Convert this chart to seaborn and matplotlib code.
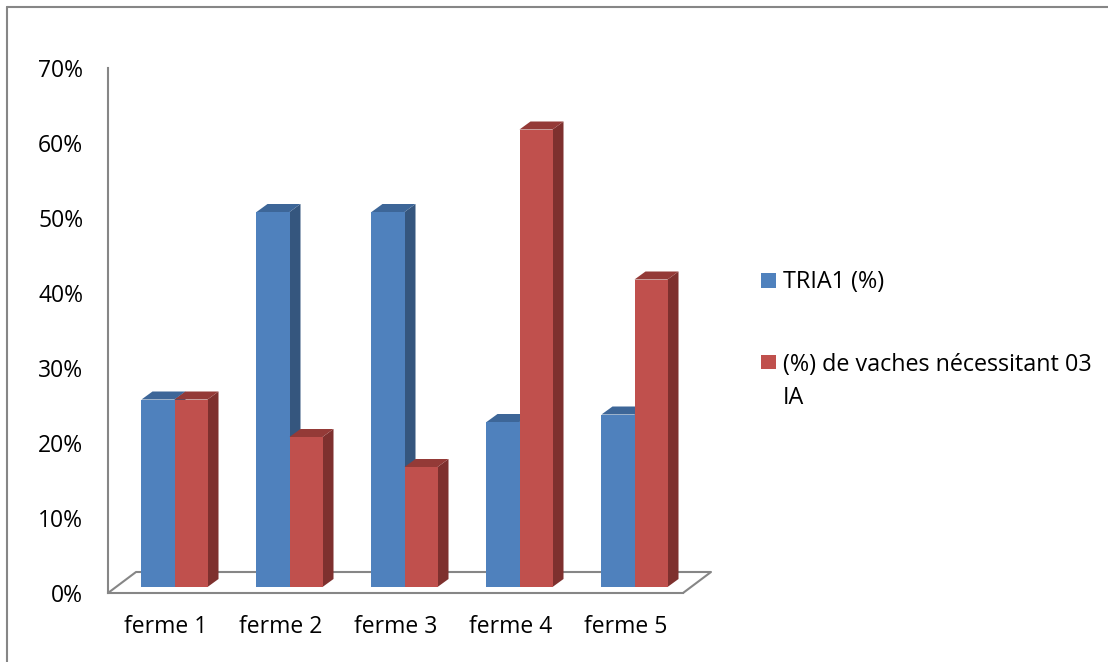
import numpy as np
import pandas as pd
import matplotlib
matplotlib.use("Agg")
import matplotlib.pyplot as plt
import seaborn as sns
from matplotlib.patches import Polygon, Rectangle
from matplotlib.lines import Line2D
from matplotlib.ticker import PercentFormatter

# ---- data -------------------------------------------------------------
fermes = ["ferme 1", "ferme 2", "ferme 3", "ferme 4", "ferme 5"]
tria1 = [0.25, 0.50, 0.50, 0.22, 0.23]
vaches_03_ia = [0.25, 0.20, 0.16, 0.61, 0.41]
series = ["TRIA1 (%)", "(%) de vaches nécessitant 03 IA"]
legend_labels = ["TRIA1 (%)", "(%) de vaches nécessitant 03\nIA"]
y_ticks = [0.0, 0.1, 0.2, 0.3, 0.4, 0.5, 0.6, 0.7]

df = pd.DataFrame({
    "ferme": fermes * 2,
    "valeur": tria1 + vaches_03_ia,
    "serie": [series[0]] * len(fermes) + [series[1]] * len(fermes),
})

# ---- style --------------------------------------------------------------
front_colors = ["#4F81BD", "#C0504D"]
side_colors = ["#35567E", "#7E302E"]
top_colors = ["#3D6698", "#943A37"]
axis_grey = "#868686"
FS = 16.5
FS_LEG = 16.8

sns.set_style("white")
plt.rcParams["font.family"] = ["Open Sans", "DejaVu Sans"]
plt.rcParams["text.color"] = "black"

W, H, DPI = 1108, 662, 100
fig = plt.figure(figsize=(W / DPI, H / DPI), dpi=DPI)


def px_box(left, top, right, bottom):
    return [left / W, 1 - bottom / H, (right - left) / W, (bottom - top) / H]


# front plane: axis lines, ticks, labels and floor outline
ax = fig.add_axes(px_box(108, 68, 683, 593))
# bar plane: set slightly back in depth
ax_bars = fig.add_axes(px_box(117, 62, 692, 587))
ax_bars.patch.set_alpha(0)

sns.barplot(data=df, x="ferme", y="valeur", hue="serie", hue_order=series,
            order=fermes, palette=front_colors, saturation=1, width=0.574,
            legend=False, ax=ax_bars, edgecolor="none", linewidth=0)
ax_bars.set_xlim(-0.5, len(fermes) - 0.5)
ax_bars.set_ylim(0, 0.7)
ax_bars.axis("off")

# pixel -> data scale for the depth extrusion
t = ax_bars.transData
ux = t.transform((1, 0))[0] - t.transform((0, 0))[0]
uy = t.transform((0, 1))[1] - t.transform((0, 0))[1]
ddx, ddy = 11 / ux, 8 / uy

bars = [p for p in ax_bars.patches if isinstance(p, Rectangle)]
n = len(fermes)
for i, p in enumerate(bars):
    lvl = i // n
    x0, w, h = p.get_x(), p.get_width(), p.get_height()
    base = 2 + lvl
    side = [(x0 + w, 0), (x0 + w + ddx, ddy), (x0 + w + ddx, h + ddy), (x0 + w, h)]
    top = [(x0, h), (x0 + ddx, h + ddy), (x0 + w + ddx, h + ddy), (x0 + w, h)]
    ax_bars.add_patch(Polygon(side, closed=True, facecolor=side_colors[lvl],
                              edgecolor="none", zorder=base, clip_on=False))
    ax_bars.add_patch(Polygon(top, closed=True, facecolor=top_colors[lvl],
                              edgecolor="none", zorder=base, clip_on=False))
    p.set_zorder(base + 0.5)
    p.set_clip_on(False)

# ---- axes ------------------------------------------------------------------
ax.set_xlim(-0.5, len(fermes) - 0.5)
ax.set_ylim(0, 0.7)
for s in ["top", "right"]:
    ax.spines[s].set_visible(False)
for s in ["left", "bottom"]:
    ax.spines[s].set_color(axis_grey)
    ax.spines[s].set_linewidth(1.5)

ax.set_yticks(y_ticks)
ax.yaxis.set_major_formatter(PercentFormatter(1.0, decimals=0))
ax.tick_params(axis="y", length=5.8, width=1.5, color=axis_grey,
               pad=12, labelsize=FS, labelcolor="black")

ax.set_xticks(np.arange(-0.5, len(fermes), 1.0))
ax.set_xticklabels([])
ax.set_xticks(np.arange(len(fermes)), minor=True)
ax.set_xticklabels(fermes, minor=True)
ax.tick_params(axis="x", which="major", length=6.5, width=1.5, color=axis_grey)
ax.tick_params(axis="x", which="minor", length=0, pad=16,
               labelsize=FS, labelcolor="black")

# floor outline
ta = ax.transData
fx = 28 / (ta.transform((1, 0))[0] - ta.transform((0, 0))[0])
fy = 21 / (ta.transform((0, 1))[1] - ta.transform((0, 0))[1])
x_l, x_r = -0.5, len(fermes) - 0.5
ax.plot([x_l, x_l + fx, x_r + fx, x_r], [0, fy, fy, 0],
        color=axis_grey, lw=1.5, clip_on=False, solid_capstyle="butt")

# chart border
fig.add_artist(Line2D([7 / W, 1], [1 - 7 / H, 1 - 7 / H],
                      transform=fig.transFigure, color=axis_grey, lw=1.5))
fig.add_artist(Line2D([7 / W, 7 / W], [0, 1 - 7 / H],
                      transform=fig.transFigure, color=axis_grey, lw=1.5))

# legend: square sits on the baseline of the label's first line
legend_rows = [(273, 288), (355, 369)]
line_step = 35
for (top_px, base_px), col, lab in zip(legend_rows, front_colors, legend_labels):
    fig.add_artist(Rectangle((761 / W, 1 - base_px / H), 15 / W,
                             (base_px - top_px) / H,
                             transform=fig.transFigure, facecolor=col,
                             edgecolor="none"))
    extra = lab.count("\n")
    last_base = base_px + extra * line_step
    fig.text(783 / W, 1 - last_base / H, lab, ha="left", va="baseline",
             fontsize=FS_LEG, linespacing=1.52)

fig.savefig("out.png", dpi=DPI, facecolor="white")
